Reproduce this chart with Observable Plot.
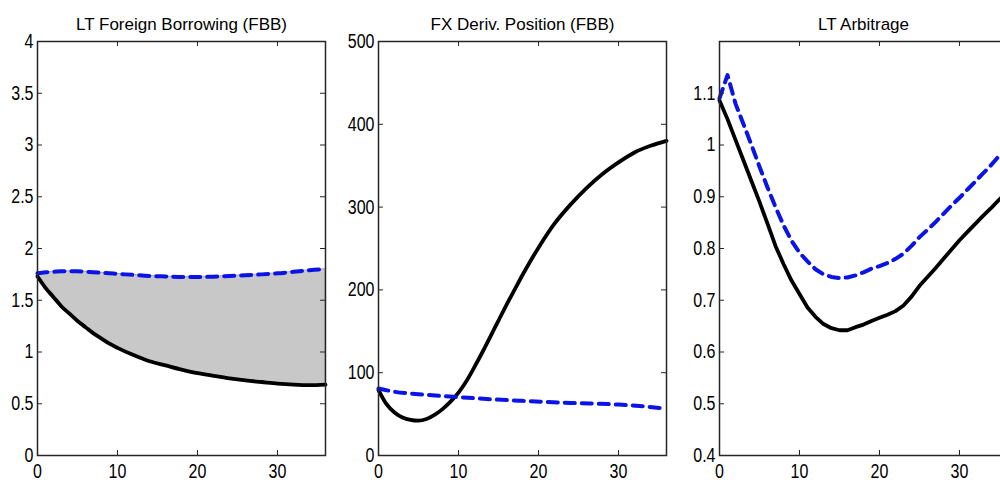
<!DOCTYPE html>
<html>
<head>
<meta charset="utf-8">
<script src="https://cdn.jsdelivr.net/npm/d3@7"></script>
<script src="https://cdn.jsdelivr.net/npm/@observablehq/plot@0.6"></script>
<style>
  html, body { margin: 0; padding: 0; background: #fff; overflow: hidden; }
  #fig { position: relative; width: 1000px; height: 483px; overflow: hidden; }
  .panel { position: absolute; top: 0; width: 341px; height: 483px; }
  .panel svg { max-width: none !important; }
</style>
</head>
<body>
<div id="fig"></div>
<script>
// ---------- Data ----------
const titles = ["LT Foreign Borrowing (FBB)", "FX Deriv. Position (FBB)", "LT Arbitrage"];
const xTicks = [0, 10, 20, 30];

// Panel 1: LT Foreign Borrowing
const t1 = [0,1,2,3,4,5,6,7,8,9,10,12,14,16,18,20,22,24,26,28,30,32,34,36];
const black1 = [1.73,1.62,1.53,1.44,1.37,1.30,1.24,1.18,1.13,1.08,1.04,0.97,0.91,0.87,0.83,0.795,0.77,0.745,0.725,0.71,0.695,0.685,0.68,0.685];
const blue1 = [1.76,1.77,1.775,1.78,1.78,1.78,1.775,1.77,1.765,1.76,1.755,1.745,1.735,1.73,1.725,1.725,1.728,1.735,1.742,1.75,1.76,1.775,1.79,1.80];
const yTicks1 = [0,0.5,1,1.5,2,2.5,3,3.5,4];

// Panel 2: FX Deriv. Position
const t2 = [0,1,2,3,4,5,6,7,8,9,10,11,12,13,14,15,16,17,18,19,20,22,24,26,28,30,32,34,36];
const black2 = [79,62,52,46,43,42,44,49,56,65,76,90,107,125,144,163,182,200,218,235,251,280,303,323,340,354,366,374,380];
const t2b = [0,2,5,10,14,18,24,30,33,35.5];
const blue2 = [81,77,74,70.5,68,66,63.5,61.5,59.5,57];
const yTicks2 = [0,100,200,300,400,500];

// Panel 3: LT Arbitrage
const t3 = [0,1,2,3,4,5,6,7,8,9,10,11,12,13,14,15,16,17,18,19,20,21,22,23,24,25,26,27,28,29,30,31,32,33,34,35,36];
const black3 = [1.086,1.05,1.01,0.97,0.93,0.89,0.848,0.805,0.77,0.738,0.712,0.686,0.668,0.654,0.646,0.642,0.642,0.648,0.653,0.66,0.666,0.672,0.679,0.69,0.707,0.728,0.745,0.762,0.78,0.798,0.816,0.832,0.848,0.864,0.879,0.895,0.91];
const blue3 = [1.09,1.135,1.08,1.04,1.0,0.958,0.918,0.88,0.845,0.815,0.792,0.775,0.76,0.75,0.745,0.743,0.744,0.748,0.754,0.761,0.766,0.772,0.78,0.79,0.805,0.822,0.836,0.851,0.867,0.883,0.898,0.914,0.93,0.946,0.962,0.98,0.995];
const yTicks3 = [0.4,0.5,0.6,0.7,0.8,0.9,1,1.1];

// ---------- Drawing ----------
const FONT = "'Liberation Sans', Arial, Helvetica, sans-serif";
const W = 341, H = 483, ML = 37, MR = 16, MT = 41, MB = 28;
const IW = W - ML - MR, IH = H - MT - MB;
const BLACK = "#000", BLUE = "#0a14e6", FRAME = "#262626";

function panel({title, yDomain, yTicks, lines, area}) {
  const marks = [];
  if (area) marks.push(area);
  for (const l of lines) marks.push(l);
  marks.push(
    Plot.frame({stroke: FRAME, strokeWidth: 1.5}),
    Plot.tickY(yTicks, {y: d => d, insetRight: IW - 5, stroke: FRAME}),
    Plot.tickY(yTicks, {y: d => d, insetLeft: IW - 5, stroke: FRAME}),
    Plot.tickX(xTicks, {x: d => d, insetTop: IH - 5, stroke: FRAME}),
    Plot.tickX(xTicks, {x: d => d, insetBottom: IH - 5, stroke: FRAME}),
    Plot.axisY({ticks: yTicks, tickSize: 0, tickPadding: 4, tickFormat: d => String(d), fontSize: 20}),
    Plot.axisX({ticks: xTicks, tickSize: 0, tickPadding: 8, tickFormat: d => String(d), fontSize: 20}),
    Plot.text([title], {frameAnchor: "top", dy: -24, fontSize: 17})
  );
  const svg = Plot.plot({
    width: W, height: H,
    marginLeft: ML, marginRight: MR, marginTop: MT, marginBottom: MB,
    x: {domain: [0, 36], label: null},
    y: {domain: yDomain, label: null},
    style: {fontFamily: FONT, fontSize: "18px", color: "#000", background: "transparent", overflow: "visible", maxWidth: "none"},
    marks
  });
  // MATLAB-like condensed tick labels: squeeze horizontally around each label's anchor
  svg.querySelectorAll('g[aria-label="y-axis tick label"] text, g[aria-label="x-axis tick label"] text').forEach(t => {
    const tr = t.getAttribute("transform") || "";
    t.setAttribute("transform", tr + " scale(0.8,1)");
  });
  return svg;
}

const d1 = t1.map((t, i) => ({t, black: black1[i], blue: blue1[i]}));
const d2 = t2.map((t, i) => ({t, v: black2[i]}));
const d2b = t2b.map((t, i) => ({t, v: blue2[i]}));
const d3 = t3.map((t, i) => ({t, black: black3[i], blue: blue3[i]}));

const p1 = panel({
  title: titles[0], yDomain: [0, 4], yTicks: yTicks1,
  area: Plot.areaY(d1, {x: "t", y1: "black", y2: "blue", fill: "#c8c8c8", stroke: "#a8a8a8", strokeWidth: 1, curve: "monotone-x"}),
  lines: [
    Plot.line(d1, {x: "t", y: "black", stroke: BLACK, strokeWidth: 3.8, curve: "monotone-x"}),
    Plot.line(d1, {x: "t", y: "blue", stroke: BLUE, strokeWidth: 4, strokeDasharray: "10,7", curve: "monotone-x"})
  ]
});
const p2 = panel({
  title: titles[1], yDomain: [0, 500], yTicks: yTicks2,
  lines: [
    Plot.line(d2, {x: "t", y: "v", stroke: BLACK, strokeWidth: 3.8, curve: "monotone-x"}),
    Plot.line(d2b, {x: "t", y: "v", stroke: BLUE, strokeWidth: 4, strokeDasharray: "10,7", curve: "monotone-x"})
  ]
});
const p3 = panel({
  title: titles[2], yDomain: [0.4, 1.2], yTicks: yTicks3,
  lines: [
    Plot.line(d3, {x: "t", y: "black", stroke: BLACK, strokeWidth: 3.8}),
    Plot.line(d3, {x: "t", y: "blue", stroke: BLUE, strokeWidth: 4, strokeDasharray: "10,7"})
  ]
});

const fig = document.getElementById("fig");
[p1, p2, p3].forEach((p, i) => {
  const div = document.createElement("div");
  div.className = "panel";
  div.style.left = (i * 341) + "px";
  div.appendChild(p);
  fig.appendChild(div);
});
</script>
</body>
</html>
